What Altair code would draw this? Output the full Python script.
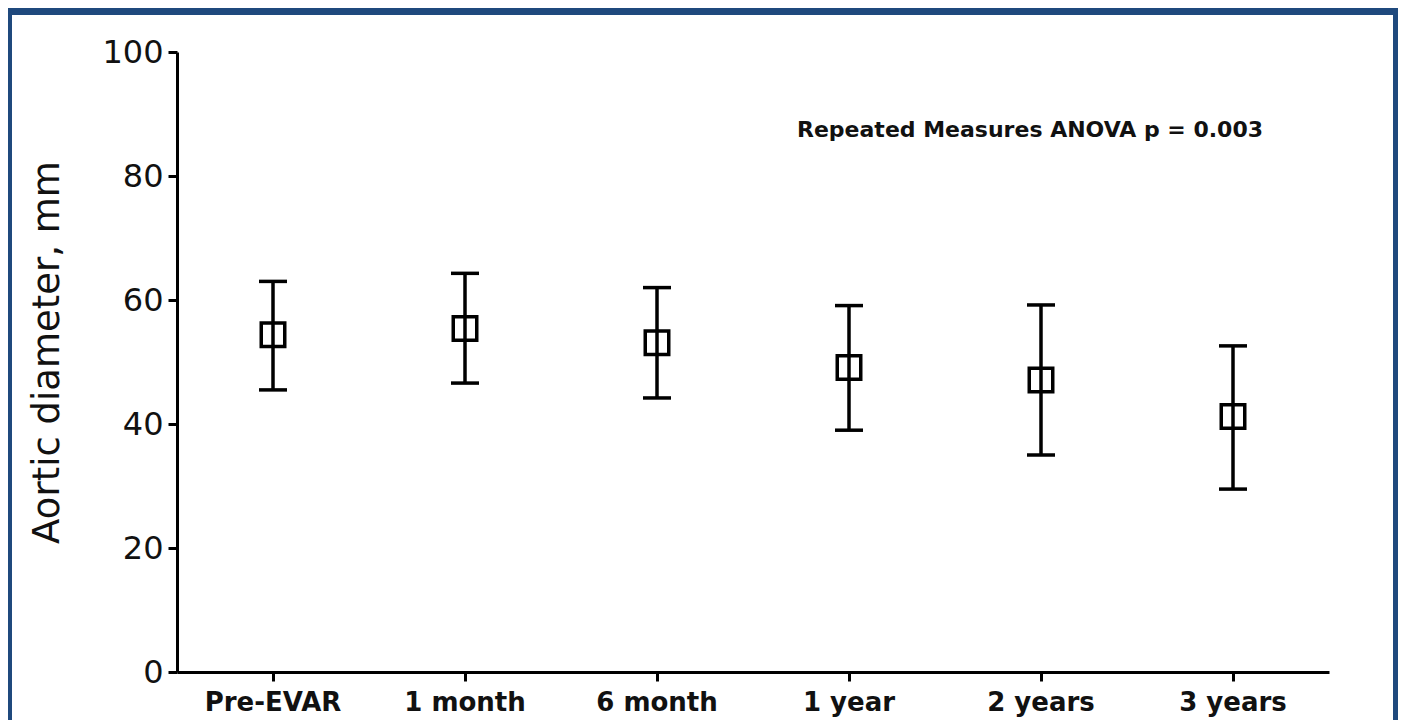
import altair as alt
import pandas as pd

categories = ["Pre-EVAR", "1 month", "6 month", "1 year", "2 years", "3 years"]
mean_mm = [54.4, 55.4, 53.1, 49.1, 47.1, 41.2]
upper_mm = [63.0, 64.3, 62.0, 59.1, 59.2, 52.6]
lower_mm = [45.5, 46.6, 44.2, 39.0, 35.0, 29.5]
y_ticks = [0, 20, 40, 60, 80, 100]
annotation = "Repeated Measures ANOVA p = 0.003"

df = pd.DataFrame({"t": categories, "mean": mean_mm, "hi": upper_mm, "lo": lower_mm})

FONT = "DejaVu Sans"
BLUE = "#1f497d"

x_enc = alt.X("t:N", sort=categories, title=None,
              scale=alt.Scale(paddingInner=0, paddingOuter=0),
              axis=alt.Axis(labelAngle=0, labelFont=FONT, labelFontSize=26,
                            labelFontWeight="bold", labelColor="#111111",
                            tickSize=9, labelPadding=8, zindex=1))
y_scale = alt.Scale(domain=[0, 100], nice=False)
y_axis = alt.Axis(values=y_ticks, labelFont=FONT, labelFontSize=32,
                  labelColor="#111111", tickSize=9, labelPadding=5, zindex=1,
                  title="Aortic diameter, mm", titleFont=FONT, titleFontSize=37,
                  titleFontWeight="normal", titleColor="#111111",
                  titleAngle=270, titleX=-119, titleY=300,
                  titleAlign="center", titleBaseline="alphabetic")

base = alt.Chart(df)

frame = alt.Chart(pd.DataFrame({"a": [0]})).mark_rect(color="white").encode(
    x=alt.value(-165), x2=alt.value(1216), y=alt.value(-37), y2=alt.value(690)
)

bars = base.mark_rule(color="black", strokeWidth=3.5).encode(
    x=x_enc,
    y=alt.Y("lo:Q", scale=y_scale, axis=y_axis),
    y2="hi:Q",
)
caps_hi = base.mark_tick(color="black", size=28, thickness=3.5, opacity=1).encode(
    x=x_enc, y=alt.Y("hi:Q", scale=y_scale, axis=y_axis)
)
caps_lo = base.mark_tick(color="black", size=28, thickness=3.5, opacity=1).encode(
    x=x_enc, y=alt.Y("lo:Q", scale=y_scale, axis=y_axis)
)
pts = base.mark_point(shape="square", filled=False, color="black",
                      strokeWidth=3.5, size=552, opacity=1).encode(
    x=x_enc, y=alt.Y("mean:Q", scale=y_scale, axis=y_axis)
)
note = alt.Chart(pd.DataFrame({"txt": [annotation]})).mark_text(
    font=FONT, fontSize=22, fontWeight="bold", color="#111111",
    align="center", baseline="middle"
).encode(x=alt.value(853), y=alt.value(78), text="txt:N")

chart = alt.layer(frame, bars, caps_hi, caps_lo, pts, note).properties(
    width=1152, height=620,
    autosize=alt.AutoSizeParams(type="none"),
    padding={"left": 169, "top": 44, "right": 69, "bottom": 48},
    background=BLUE,
).configure_view(stroke=None).configure_axis(
    grid=False, domainColor="black", domainWidth=3, tickColor="black", tickWidth=3
)

chart.save("out.html", embed_options={"renderer": "svg", "actions": False})
